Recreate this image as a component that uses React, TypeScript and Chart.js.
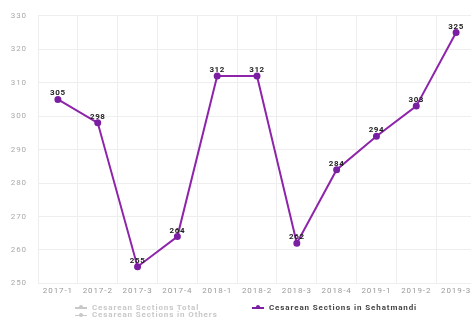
import React, { useEffect, useRef } from "react";
import { Chart, registerables } from "chart.js";

Chart.register(...registerables);

const categories = ["2017-1", "2017-2", "2017-3", "2017-4", "2018-1", "2018-2", "2018-3", "2018-4", "2019-1", "2019-2", "2019-3"];
const sehatmandi = [305, 298, 255, 264, 312, 312, 262, 284, 294, 303, 325];
const yMin = 250;
const yMax = 330;
const yStep = 10;
const legendHidden = ["Cesarean Sections Total", "Cesarean Sections in Others"];
const legendActive = "Cesarean Sections in Sehatmandi";

const FONT = "Roboto, 'Noto Sans', sans-serif";
const LINE = "#8e24aa";
const POINT = "#7b1fa2";

const spacingPlugin = {
  id: "letterSpacing",
  beforeLayout(chart: any) {
    chart.ctx.letterSpacing = "0.9px";
  },
  beforeDraw(chart: any) {
    chart.ctx.letterSpacing = "0.9px";
  },
};

const labelPlugin = {
  id: "valueLabels",
  afterDatasetsDraw(chart: any) {
    const ctx = chart.ctx;
    const meta = chart.getDatasetMeta(0);
    ctx.save();
    ctx.letterSpacing = "0.6px";
    ctx.font = "bold 8px " + FONT;
    ctx.textAlign = "center";
    ctx.textBaseline = "bottom";
    ctx.fillStyle = "#222";
    meta.data.forEach((pt: any, i: number) => {
      ctx.fillText(String(sehatmandi[i]), pt.x, pt.y - 2);
    });
    ctx.restore();
  },
};

function LegendIcon({ color }: { color: string }) {
  return (
    <span style={{ position: "relative", display: "inline-block", width: 12, height: 7, marginRight: 5, verticalAlign: "middle" }}>
      <span style={{ position: "absolute", left: 0, right: 0, top: 3, height: 1.5, background: color }} />
      <span style={{ position: "absolute", left: 4, top: 1, width: 4, height: 4, borderRadius: 2, background: color }} />
    </span>
  );
}

export default function App() {
  const ref = useRef<HTMLCanvasElement | null>(null);
  useEffect(() => {
    const prevMargin = document.body.style.margin;
    document.body.style.margin = "0";
    const chart = new Chart(ref.current as HTMLCanvasElement, {
      type: "line",
      data: {
        labels: categories,
        datasets: [
          {
            label: legendActive,
            data: sehatmandi,
            borderColor: LINE,
            backgroundColor: POINT,
            pointBackgroundColor: POINT,
            pointBorderColor: POINT,
            borderWidth: 2,
            pointRadius: 2.5,
            tension: 0,
          },
        ],
      },
      options: {
        animation: false,
        responsive: false,
        maintainAspectRatio: false,
        layout: { padding: { top: 15, right: 1, bottom: 22, left: 0 } },
        plugins: { legend: { display: false }, tooltip: { enabled: false } },
        scales: {
          x: {
            offset: true,
            grid: { offset: true, color: "#eeeeee", drawTicks: false },
            border: { display: false },
            ticks: { color: "#999", font: { size: 8, family: FONT }, padding: 3, maxRotation: 0, autoSkip: false },
          },
          y: {
            min: yMin,
            max: yMax,
            afterFit(scale: any) {
              scale.width = 38;
            },
            grid: { color: "#eeeeee", drawTicks: false },
            border: { display: false },
            ticks: { stepSize: yStep, color: "#aaa", font: { size: 8, family: FONT }, padding: 11 },
          },
        },
      },
      plugins: [spacingPlugin, labelPlugin],
    } as any);
    return () => {
      chart.destroy();
      document.body.style.margin = prevMargin;
    };
  }, []);

  const textStyle: React.CSSProperties = { fontFamily: FONT, fontSize: 8, fontWeight: "bold", lineHeight: "8px", whiteSpace: "nowrap", letterSpacing: "0.88px" };

  return (
    <div style={{ position: "absolute", left: 0, top: 0, width: 471, height: 321, overflow: "hidden", background: "#fff" }}>
      <canvas ref={ref} width={482} height={321} style={{ display: "block", width: 482, height: 321 }} />
      <div style={{ position: "absolute", left: 75, top: 304, ...textStyle, color: "#c8c8c8" }}>
        {legendHidden.map((t) => (
          <div key={t} style={{ height: 7.5, display: "flex", alignItems: "center" }}>
            <LegendIcon color="#c8c8c8" />
            <span>{t}</span>
          </div>
        ))}
      </div>
      <div style={{ position: "absolute", left: 252, top: 304, ...textStyle, color: "#444", display: "flex", alignItems: "center", height: 7.5 }}>
        <LegendIcon color={POINT} />
        <span>{legendActive}</span>
      </div>
    </div>
  );
}
